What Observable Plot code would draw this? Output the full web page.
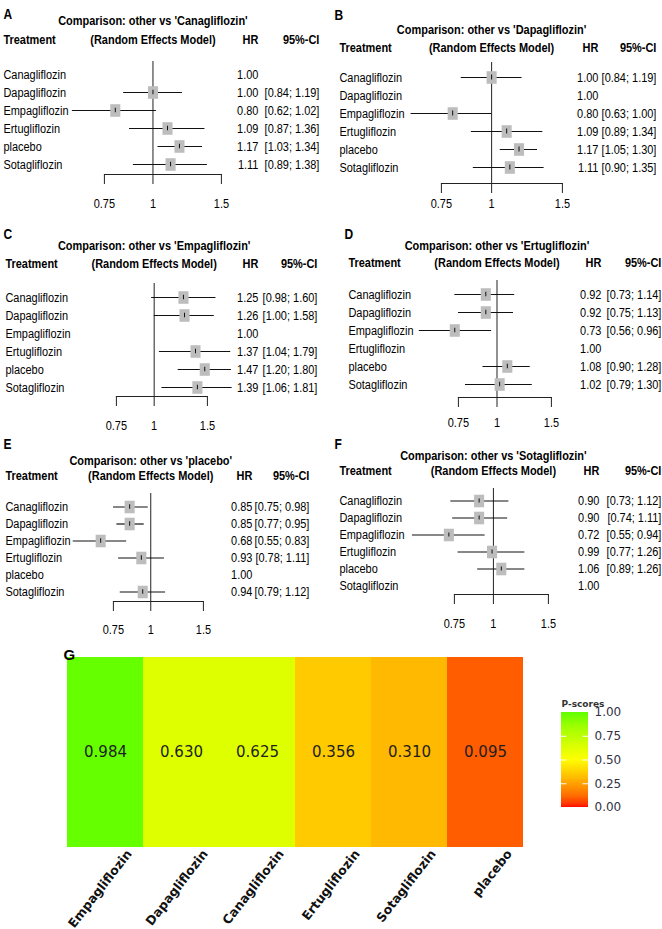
<!DOCTYPE html>
<html><head><meta charset="utf-8">
<script src="https://cdn.jsdelivr.net/npm/d3@7"></script>
<script src="https://cdn.jsdelivr.net/npm/@observablehq/plot@0.6"></script>
<style>
body{margin:0;background:#fff;}
#fig{position:relative;width:662px;height:929px;overflow:hidden;background:#fff;}
.panel{position:absolute;}
.panel svg{overflow:visible;max-width:none !important;}
.squeeze svg{transform-origin:0 0;}
</style></head><body><div id="fig"></div>
<script>
// ---------- data ----------
const treatments = ["Canagliflozin","Dapagliflozin","Empagliflozin","Ertugliflozin","placebo","Sotagliflozin"];
const tags = ["A","B","C","D","E","F"];
const references = ["Canagliflozin","Dapagliflozin","Empagliflozin","Ertugliflozin","placebo","Sotagliflozin"];

const hrA = [1.00, 1.00, 0.80, 1.09, 1.17, 1.11];
const loA = [null, 0.84, 0.62, 0.87, 1.03, 0.89];
const hiA = [null, 1.19, 1.02, 1.36, 1.34, 1.38];

const hrB = [1.00, 1.00, 0.80, 1.09, 1.17, 1.11];
const loB = [0.84, null, 0.63, 0.89, 1.05, 0.90];
const hiB = [1.19, null, 1.00, 1.34, 1.30, 1.35];

const hrC = [1.25, 1.26, 1.00, 1.37, 1.47, 1.39];
const loC = [0.98, 1.00, null, 1.04, 1.20, 1.06];
const hiC = [1.60, 1.58, null, 1.79, 1.80, 1.81];

const hrD = [0.92, 0.92, 0.73, 1.00, 1.08, 1.02];
const loD = [0.73, 0.75, 0.56, null, 0.90, 0.79];
const hiD = [1.14, 1.13, 0.96, null, 1.28, 1.30];

const hrE = [0.85, 0.85, 0.68, 0.93, 1.00, 0.94];
const loE = [0.75, 0.77, 0.55, 0.78, null, 0.79];
const hiE = [0.98, 0.95, 0.83, 1.11, null, 1.12];

const hrF = [0.90, 0.90, 0.72, 0.99, 1.06, 1.00];
const loF = [0.73, 0.74, 0.55, 0.77, 0.89, null];
const hiF = [1.12, 1.11, 0.94, 1.26, 1.26, null];

const xTicks = [0.75, 1, 1.5];
const nullEffect = 1;

const ranking = ["Empagliflozin","Dapagliflozin","Canagliflozin","Ertugliflozin","Sotagliflozin","placebo"];
const pscores = [0.984, 0.630, 0.625, 0.356, 0.310, 0.095];
const legendTicks = [0, 0.25, 0.5, 0.75, 1];

// ---------- layout (pixels, in the final picture) ----------
const layouts = [
  {left:0,   top:0,   h:215, tagX:3,  tagY:8,  titleY:15, headY:34, rows:[72,165], frameTop:61, axisY:174, tickLabY:203, x075:104, x15:221, nameX:3,  hrR:258, ciR:319},
  {left:331, top:0,   h:215, tagX:3,  tagY:9,  titleY:24, headY:42, rows:[77,167], frameTop:62, axisY:183, tickLabY:203, x075:110, x15:231, nameX:8,  hrR:267, ciR:325},
  {left:0,   top:215, h:215, tagX:3,  tagY:13, titleY:25, headY:43, rows:[80,173], frameTop:68, axisY:181, tickLabY:210, x075:116, x15:207, nameX:5,  hrR:258, ciR:317},
  {left:331, top:215, h:215, tagX:13, tagY:13, titleY:25, headY:42, rows:[77,170], frameTop:65, axisY:182, tickLabY:207, x075:127, x15:220, nameX:17, hrR:270, ciR:330},
  {left:0,   top:430, h:210, tagX:3,  tagY:8,  titleY:25, headY:40, rows:[75,163], frameTop:63, axisY:171, tickLabY:199, x075:113, x15:203, nameX:5,  hrR:252, ciR:309},
  {left:331, top:430, h:210, tagX:3,  tagY:8,  titleY:20, headY:35, rows:[68,157], frameTop:58, axisY:164, tickLabY:193, x075:123, x15:217, nameX:8,  hrR:268, ciR:330}
];

const comparisons = [
  {hr:hrA, lo:loA, hi:hiA}, {hr:hrB, lo:loB, hi:hiB}, {hr:hrC, lo:loC, hi:hiC},
  {hr:hrD, lo:loD, hi:hiD}, {hr:hrE, lo:loE, hi:hiE}, {hr:hrF, lo:loF, hi:hiF}
];

// the forest panels are drawn wide and squeezed horizontally, like the narrow type of the original
const K = 0.8;
const FOREST_FONT = "'Liberation Sans',Arial,Helvetica,sans-serif";
const fig = document.getElementById("fig");
const f2 = d3.format(".2f");

function forest(i) {
  const c = comparisons[i], L = layouts[i];
  const sx = v => v / K;
  const rows = treatments.map((t, j) => ({t, hr: c.hr[j], lo: c.lo[j], hi: c.hi[j]}));
  const est = rows.filter(d => d.lo != null);
  const W = sx(331);
  const s = (L.rows[1] - L.rows[0]) / (treatments.length - 1);
  const mL = sx(L.x075), mR = W - sx(L.x15), mT = L.frameTop, mB = L.h - L.axisY;
  const tickSize = 10;
  const right = W - mR;
  const fs = 13.7;
  return Plot.plot({
    width: W, height: L.h,
    marginLeft: mL, marginRight: mR, marginTop: mT, marginBottom: mB,
    style: {fontFamily: FOREST_FONT, fontSize: fs + "px", color: "black", background: "transparent", overflow: "visible"},
    x: {type: "log", domain: [0.75, 1.5], axis: null},
    y: {type: "band", domain: treatments, range: [L.rows[0] - s / 2, L.rows[1] + s / 2], padding: 0, axis: null},
    marks: [
      Plot.ruleX([nullEffect], {stroke: "#222", strokeWidth: 1.25}),
      Plot.frame({anchor: "bottom", stroke: "#222", strokeWidth: 1.1}),
      Plot.axisX({ticks: xTicks, tickFormat: d => String(d), tickSize, tickPadding: L.tickLabY - L.axisY - tickSize - 5, anchor: "bottom", stroke: "#222", strokeWidth: 1.25, fontSize: fs}),
      Plot.ruleY(est, {y: "t", x1: "lo", x2: "hi", stroke: "#111", strokeWidth: 1.2}),
      Plot.dot(est, {x: "hr", y: "t", symbol: "square", r: 7.1, fill: "#bdbdbd", stroke: null}),
      Plot.tickX(est, {x: "hr", y: "t", insetTop: (s - 5) / 2, insetBottom: (s - 5) / 2, stroke: "#111", strokeWidth: 1.25}),
      Plot.text(rows, {y: "t", text: "t", frameAnchor: "left", textAnchor: "start", dx: sx(L.nameX) - mL}),
      Plot.text(rows, {y: "t", text: d => f2(d.hr), frameAnchor: "right", textAnchor: "end", dx: sx(L.hrR) - right}),
      Plot.text(est, {y: "t", text: d => `[${f2(d.lo)}; ${f2(d.hi)}]`, frameAnchor: "right", textAnchor: "end", dx: sx(L.ciR) - right}),
      Plot.text([`Comparison: other vs '${references[i]}'`], {x: () => nullEffect, text: d => d, frameAnchor: "top", dy: L.titleY - mT, fontWeight: "bold"}),
      Plot.text(["Treatment"], {text: d => d, frameAnchor: "top-left", textAnchor: "start", dx: sx(L.nameX) - mL, dy: L.headY - mT, fontWeight: "bold"}),
      Plot.text(["(Random Effects Model)"], {x: () => nullEffect, text: d => d, frameAnchor: "top", dy: L.headY - mT, fontWeight: "bold"}),
      Plot.text(["HR"], {text: d => d, frameAnchor: "top-right", textAnchor: "end", dx: sx(L.hrR) - right, dy: L.headY - mT, fontWeight: "bold"}),
      Plot.text(["95%-CI"], {text: d => d, frameAnchor: "top-right", textAnchor: "end", dx: sx(L.ciR) - right, dy: L.headY - mT, fontWeight: "bold"}),
      Plot.text([tags[i]], {text: d => d, frameAnchor: "top-left", textAnchor: "start", dx: sx(L.tagX) - mL, dy: L.tagY - mT, fontWeight: "bold", fontSize: 15})
    ]
  });
}

layouts.forEach((L, i) => {
  const div = document.createElement("div");
  div.className = "panel squeeze";
  div.style.left = L.left + "px";
  div.style.top = L.top + "px";
  div.style.width = (331 / K) + "px";
  div.style.height = L.h + "px";
  const svg = forest(i);
  svg.style.width = (331 / K) + "px";
  svg.style.height = L.h + "px";
  svg.style.transform = `scaleX(${K})`;
  div.appendChild(svg);
  fig.appendChild(div);
});

// ---------- heatmap G ----------
const colorScale = {type: "linear", domain: [0, 0.5, 1], range: ["#ff0000", "#ffff00", "#5eff00"], interpolate: "lab"};
const cells = ranking.map((t, j) => ({t, p: pscores[j]}));
const HM = {top: 640, w: 662, h: 289, x0: 66, x1: 524, y0: 657, y1: 847};

const heat = Plot.plot({
  width: HM.w, height: HM.h,
  marginLeft: HM.x0, marginRight: HM.w - HM.x1, marginTop: HM.y0 - HM.top, marginBottom: HM.top + HM.h - HM.y1,
  style: {fontFamily: "'DejaVu Sans',sans-serif", fontSize: "14px", color: "black", background: "transparent", overflow: "visible"},
  x: {type: "band", domain: ranking, padding: 0, axis: null},
  color: colorScale,
  marks: [
    Plot.cell(cells, {x: "t", fill: "p", inset: 0}),
    Plot.text(cells, {x: "t", text: d => d3.format(".3f")(d.p), fill: "#1e1e1e", fontSize: 15}),
    Plot.text(ranking, {x: d => d, text: d => d, frameAnchor: "bottom", rotate: -52, textAnchor: "end", lineAnchor: "top", dx: 20, dy: 1, fontWeight: "bold", fontSize: 12.5, fill: "#111"}),
    Plot.text(["G"], {text: d => d, frameAnchor: "top-left", textAnchor: "start", dx: 63 - HM.x0, dy: 649 - HM.y0, fontWeight: "bold", fontSize: 15, fontFamily: "'Liberation Sans',Arial,sans-serif"})
  ]
});
const gdiv = document.createElement("div");
gdiv.className = "panel";
gdiv.style.left = "0px";
gdiv.style.top = HM.top + "px";
gdiv.appendChild(heat);
fig.appendChild(gdiv);

// ---------- legend ----------
const LG = {left: 540, top: 690, w: 120, h: 130, bx0: 561, bx1: 588, by0: 712, by1: 807};
const steps = d3.range(0, 1, 0.01);
const legend = Plot.plot({
  width: LG.w, height: LG.h,
  marginLeft: LG.bx0 - LG.left, marginRight: LG.left + LG.w - LG.bx1,
  marginTop: LG.by0 - LG.top, marginBottom: LG.top + LG.h - LG.by1,
  style: {fontFamily: "'DejaVu Sans',sans-serif", fontSize: "12px", color: "#333344", background: "transparent", overflow: "visible"},
  x: {domain: [0, 1], axis: null},
  y: {domain: [0, 1], axis: null},
  color: colorScale,
  marks: [
    Plot.rect(steps, {x1: 0, x2: 1, y1: d => d, y2: d => Math.min(1, d + 0.02), fill: d => d + 0.005, shapeRendering: "crispEdges"}),
    Plot.ruleY(legendTicks.slice(1, -1), {x1: 0, x2: 0.2, stroke: "white", strokeWidth: 1}),
    Plot.ruleY(legendTicks.slice(1, -1), {x1: 0.8, x2: 1, stroke: "white", strokeWidth: 1}),
    Plot.axisY({ticks: legendTicks, tickFormat: d3.format(".2f"), anchor: "right", tickSize: 0, tickPadding: 6, fill: "#333344"}),
    Plot.text(["P-scores"], {text: d => d, frameAnchor: "top-left", textAnchor: "start", dy: -12, fontWeight: "bold", fontSize: 9, fill: "#333"})
  ]
});
const ldiv = document.createElement("div");
ldiv.className = "panel";
ldiv.style.left = LG.left + "px";
ldiv.style.top = LG.top + "px";
ldiv.appendChild(legend);
fig.appendChild(ldiv);
</script>
</body></html>
